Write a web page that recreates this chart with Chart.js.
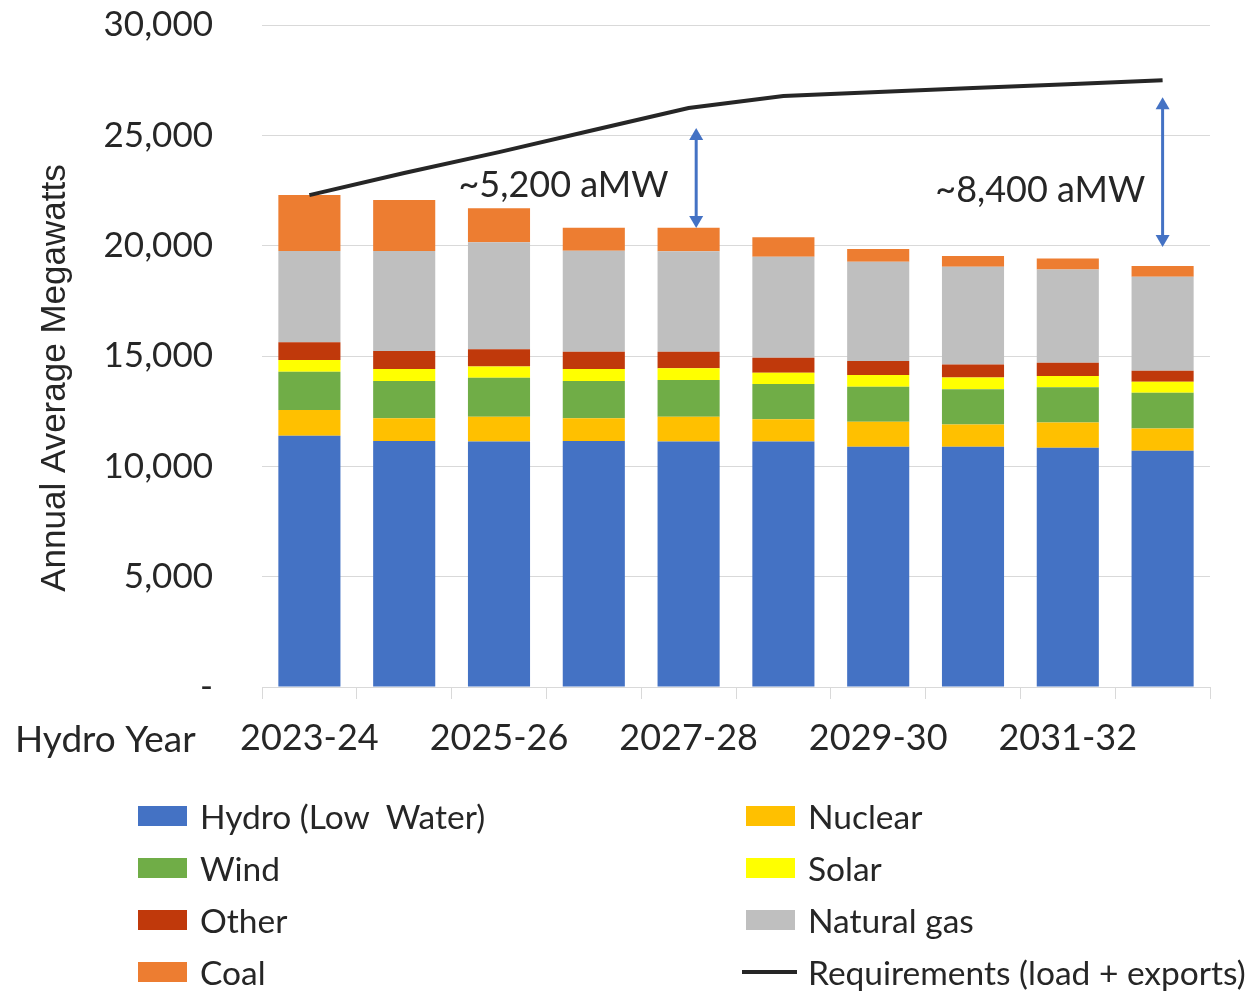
<!DOCTYPE html>
<html>
<head>
<meta charset="utf-8">
<script src="https://cdn.jsdelivr.net/npm/chart.js@4.4.1/dist/chart.umd.min.js"></script>
<style>
  html, body { margin: 0; padding: 0; background: #fff; }
  #wrap { position: relative; width: 1256px; height: 991px; }
  #legend { position: absolute; left: 0; top: 0; width: 1256px; height: 991px; pointer-events: none;
            font-family: Lato, "Open Sans", sans-serif; font-size: 33.5px; color: #262626; }
  .item { position: absolute; display: flex; align-items: center; height: 40px; white-space: pre; }
  .box { width: 49px; height: 20px; margin-right: 13px; }
  .ln { width: 55px; height: 4px; margin-right: 11px; margin-left: -4px; }
</style>
</head>
<body>
<div id="wrap">
  <canvas id="canvas" width="1256" height="991"></canvas>
  <div id="legend"></div>
</div>
<script>
// hydro years on the x axis
const years = ['2023-24','2024-25','2025-26','2026-27','2027-28','2028-29','2029-30','2030-31','2031-32','2032-33'];

// annual average megawatts by resource (stacked bottom to top)
const hydro   = [11390, 11150, 11120, 11150, 11120, 11120, 10890, 10890, 10840, 10710];
const nuclear = [1160, 1030, 1130, 1030, 1130, 1010, 1130, 1010, 1150, 1010];
const wind    = [1740, 1690, 1770, 1690, 1660, 1600, 1590, 1590, 1590, 1610];
const solar   = [530, 540, 500, 540, 530, 510, 530, 540, 510, 500];
const other   = [800, 820, 790, 780, 750, 680, 630, 590, 600, 500];
const gas     = [4140, 4530, 4850, 4580, 4560, 4580, 4500, 4420, 4230, 4260];
const coal    = [2540, 2310, 1540, 1040, 1060, 880, 580, 490, 500, 490];

// requirements (load + exports)
const requirements = [22290, 23290, 24240, 25240, 26240, 26780, 26960, 27140, 27320, 27500];

// gap call-outs
const gapLabels = ['~5,200 aMW', '~8,400 aMW'];

const yMax = 30000;
const yStep = 5000;

const font = 'Lato, "Open Sans", sans-serif';
const textColor = '#262626';

function bar(label, data, color) {
    return {type: 'bar', label: label, data: data, backgroundColor: color, order: 1,
            barPercentage: 0.655, categoryPercentage: 1, borderWidth: 0};
}

function drawArrow(ctx, x, y1, y2) {
    const head = 12, half = 7;
    ctx.strokeStyle = '#4472C4';
    ctx.fillStyle = '#4472C4';
    ctx.lineWidth = 3;
    ctx.beginPath();
    ctx.moveTo(x, y1 + head - 2);
    ctx.lineTo(x, y2 - head + 2);
    ctx.stroke();
    ctx.beginPath();
    ctx.moveTo(x, y1); ctx.lineTo(x - half, y1 + head); ctx.lineTo(x + half, y1 + head); ctx.closePath();
    ctx.fill();
    ctx.beginPath();
    ctx.moveTo(x, y2); ctx.lineTo(x - half, y2 - head); ctx.lineTo(x + half, y2 - head); ctx.closePath();
    ctx.fill();
}

const callouts = {
    id: 'callouts',
    afterDatasetsDraw(chart) {
        const {ctx, scales: {x, y}} = chart;
        const step = x.getPixelForValue(1) - x.getPixelForValue(0);
        ctx.save();
        // double arrows showing the gap
        drawArrow(ctx, x.getPixelForValue(4) + 0.08 * step, y.getPixelForValue(25330), y.getPixelForValue(20800));
        drawArrow(ctx, x.getPixelForValue(9), y.getPixelForValue(26730), y.getPixelForValue(19940));
        ctx.fillStyle = textColor;
        ctx.font = '36px ' + font;
        ctx.textAlign = 'center';
        ctx.textBaseline = 'middle';
        ctx.fillText(gapLabels[0], x.getPixelForValue(2) + 0.68 * step, y.getPixelForValue(22745));
        ctx.fillText(gapLabels[1], x.getPixelForValue(7) + 0.71 * step, y.getPixelForValue(22520));
        // axis caption on the left of the category labels
        ctx.textAlign = 'left';
        ctx.font = '37px ' + font;
        ctx.fillText('Hydro Year', 15, x.top + 53);
        // y axis title, sitting a bit below the axis middle as in the source
        ctx.translate(55, y.getPixelForValue(14000));
        ctx.rotate(-Math.PI / 2);
        ctx.textAlign = 'center';
        ctx.font = '35px "Liberation Sans Narrow", "Liberation Sans", sans-serif';
        ctx.fillText('Annual Average Megawatts', 0, 0);
        ctx.restore();
    }
};

let ctx = document.getElementById('canvas').getContext('2d');
const chart = new Chart(ctx, {
    data: {
        labels: years,
        datasets: [
            bar('Hydro (Low  Water)', hydro, '#4472C4'),
            bar('Nuclear', nuclear, '#FFC000'),
            bar('Wind', wind, '#70AD47'),
            bar('Solar', solar, '#FFFF00'),
            bar('Other', other, '#C0390B'),
            bar('Natural gas', gas, '#BFBFBF'),
            bar('Coal', coal, '#ED7D31'),
            {type: 'line', label: 'Requirements (load + exports)', data: requirements, order: 0,
             borderColor: '#262626', borderWidth: 4, pointRadius: 0, tension: 0, fill: false}
        ]
    },
    options: {
        responsive: false,
        animation: false,
        layout: {padding: {top: 25, right: 46, bottom: 224, left: 0}},
        plugins: {legend: {display: false}, tooltip: {enabled: false}},
        scales: {
            x: {
                stacked: true,
                grid: {drawOnChartArea: false, drawTicks: true, tickLength: 12, color: '#D9D9D9', offset: true},
                border: {color: '#D9D9D9'},
                ticks: {
                    autoSkip: false, maxRotation: 0, padding: 18, color: textColor,
                    font: {family: font, size: 36},
                    callback: (v, i) => i % 2 === 0 ? years[i] : ''
                },
                afterFit: s => { s.height = 80; }
            },
            y: {
                stacked: true,
                min: 0, max: yMax,
                grid: {color: '#D9D9D9', drawTicks: false},
                border: {display: false},
                ticks: {
                    stepSize: yStep, padding: 49, color: textColor,
                    font: {family: font, size: 35},
                    callback: v => v === 0 ? '-' : v.toLocaleString('en-US')
                },
                afterFit: s => { s.width = 262; s.paddingTop = 0; s.paddingBottom = 0; }
            }
        }
    },
    plugins: [callouts]
});

// two-column legend built from the chart's datasets
const legend = document.getElementById('legend');
chart.data.datasets.forEach((ds, k) => {
    const col = k % 2, row = Math.floor(k / 2);
    const item = document.createElement('div');
    item.className = 'item';
    item.style.left = (col ? 746 : 138) + 'px';
    item.style.top = (816 + row * 52 - 20) + 'px';
    const sw = document.createElement('div');
    if (ds.type === 'line') { sw.className = 'ln'; sw.style.background = ds.borderColor; }
    else { sw.className = 'box'; sw.style.background = ds.backgroundColor; }
    item.appendChild(sw);
    item.appendChild(document.createTextNode(ds.label));
    legend.appendChild(item);
});
</script>
</body>
</html>
